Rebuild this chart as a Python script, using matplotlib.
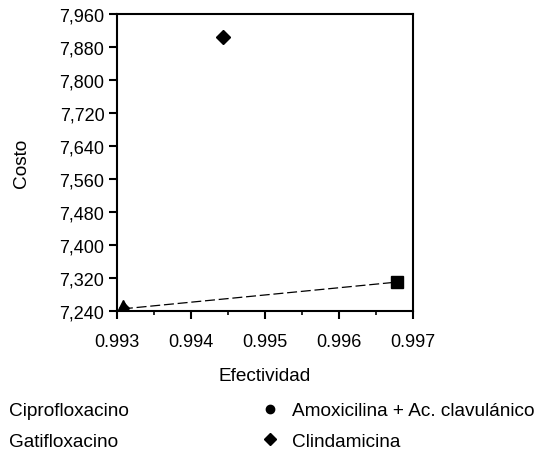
import matplotlib.pyplot as plt
from matplotlib.lines import Line2D
from matplotlib.ticker import MultipleLocator, FuncFormatter

plt.rcParams['font.family'] = ['Liberation Sans', 'DejaVu Sans']
plt.rcParams['font.size'] = 13.7

# data
names = ["Ciprofloxacino", "Gatifloxacino", "Amoxicilina + Ac. clavulánico", "Clindamicina"]
efectividad = [0.99308, 0.99309, 0.99679, 0.99443]
costo = [7252, 7247, 7310, 7904]
# dominance frontier (dashed)
frontier_x = [0.99308, 0.99679]
frontier_y = [7245, 7310]
x_ticks = [0.993, 0.994, 0.995, 0.996, 0.997]
y_ticks = [7240, 7320, 7400, 7480, 7560, 7640, 7720, 7800, 7880, 7960]

fig = plt.figure(figsize=(5.39, 4.56), dpi=100)
ax = fig.add_axes([0.217, 0.316, 0.549, 0.651])

ax.plot(frontier_x, frontier_y, color='black', lw=0.9, ls=(0, (8, 3)))
ax.plot(efectividad[0], costo[0], marker='^', ms=9, color='black', ls='none')
ax.plot(efectividad[1], costo[1], marker='D', ms=5, color='black', ls='none')
ax.plot(efectividad[2], costo[2], marker='s', ms=8, color='black', ls='none')
ax.plot(efectividad[3], costo[3], marker='D', ms=7, color='black', ls='none')

ax.set_xlim(x_ticks[0], x_ticks[-1])
ax.set_ylim(y_ticks[0], y_ticks[-1])
ax.set_xticks(x_ticks)
ax.set_yticks(y_ticks)
ax.xaxis.set_minor_locator(MultipleLocator(0.0005))
ax.xaxis.set_major_formatter(FuncFormatter(lambda v, p: f"{v:.3f}"))
ax.yaxis.set_major_formatter(FuncFormatter(lambda v, p: f"{v:,.0f}"))
ax.tick_params(which='major', direction='out', length=6, width=1.5, pad=3, labelsize=13)
ax.tick_params(axis='x', which='major', pad=10)
ax.tick_params(which='minor', direction='out', length=3, width=1.2)
for s in ax.spines.values():
    s.set_linewidth(1.5)

ax.set_xlabel("Efectividad", labelpad=12.5)
ax.set_ylabel("Costo", labelpad=21)

handles = [
    Line2D([], [], ls='none', marker=''),
    Line2D([], [], ls='none', marker=''),
    Line2D([], [], ls='none', marker='o', ms=6, color='black'),
    Line2D([], [], ls='none', marker='D', ms=6, color='black'),
]
fig.legend(handles, names, ncol=2, loc='upper left', bbox_to_anchor=(-0.039, 0.116),
           frameon=False, handlelength=0.9, handletextpad=0.7, columnspacing=6.94,
           borderpad=0, borderaxespad=0, labelspacing=0.68)

fig.savefig("out.png", dpi=100)
